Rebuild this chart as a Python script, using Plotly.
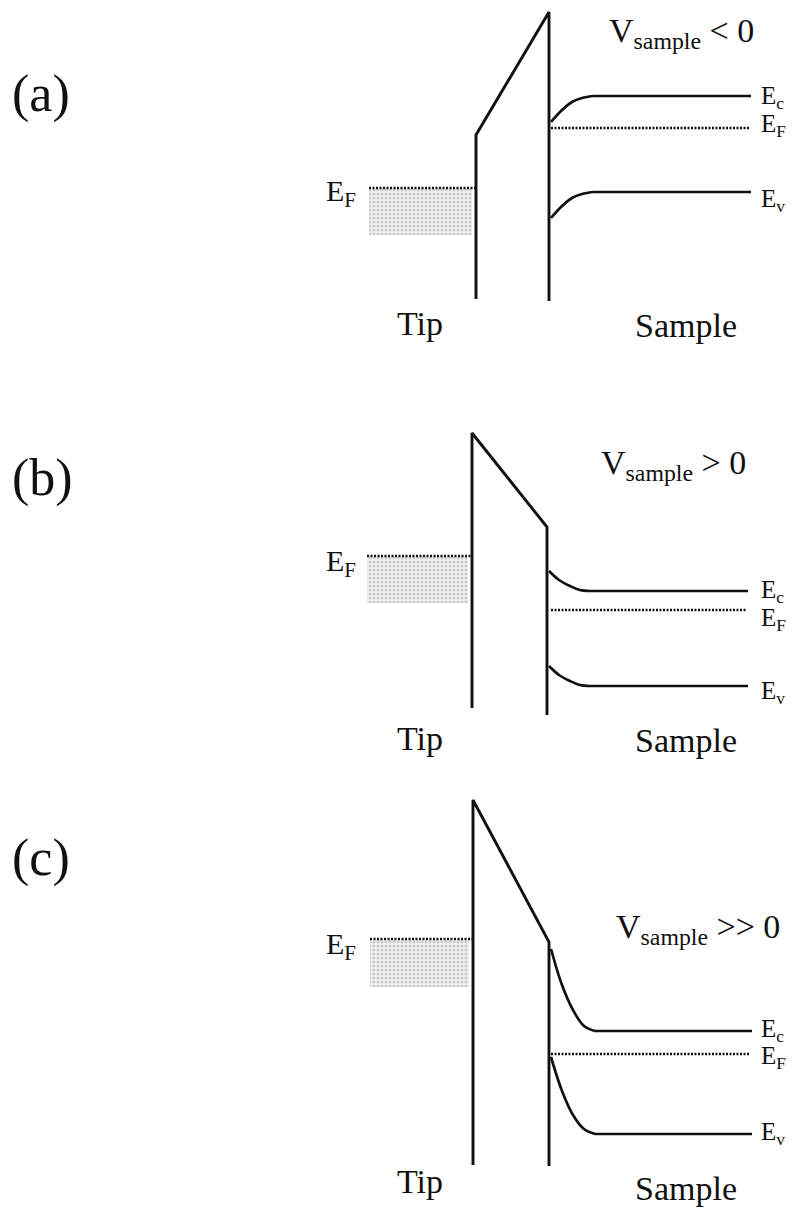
import plotly.graph_objects as go

# ---------------- data (diagram coordinates, y grows downward) ----------------
panel_labels = ["(a)", "(b)", "(c)"]
bias_labels = ["V<sub>sample</sub> < 0", "V<sub>sample</sub> > 0", "V<sub>sample</sub> >> 0"]

tip_wall_x = [476, 472, 473]
tip_wall_top = [135, 433, 800]
tip_wall_bottom = [299, 708, 1165]

sample_wall_x = [549, 547, 549]
sample_wall_top = [12, 527, 942]
sample_wall_bottom = [301, 715, 1166]

tip_ef_x0 = [369, 367, 370]
tip_ef_y = [188, 556, 939]
tip_band_bottom = [235, 603, 987]

sample_ef_x0 = [551, 551, 551]
sample_ef_y = [128, 610, 1054]
band_right_x = [751, 748, 752]

ec_x = [[551, 561, 572, 582, 593], [549, 559, 570, 580, 590], [551, 562, 573, 584, 595]]
ec_y = [[122, 111, 102, 98, 96], [571, 580, 586, 590, 591], [949, 985, 1010, 1026, 1031]]
ev_x = [[551, 561, 572, 582, 593], [549, 559, 570, 580, 590], [551, 562, 573, 584, 595]]
ev_y = [[218, 207, 198, 194, 192], [666, 675, 681, 685, 686], [1057, 1091, 1115, 1129, 1134]]

# label anchor heights
panel_label_y = [94, 478, 858]
bias_label_y = [33, 465, 929]
bias_label_x = [681, 673, 698]
tip_label_y = [323, 738, 1181]
sample_label_y = [325, 740, 1188]
left_ef_label_y = [193, 563, 946]
ec_label_y = [97, 591, 1030]
ef_label_y = [125, 619, 1057]
ev_label_y = [200, 692, 1133]

# ---------------- figure ----------------
W, H = 796, 1208
FONT = "Liberation Serif, Times New Roman, serif"
BLACK = "#111111"

fig = go.Figure()

def add_line(xs, ys, width=2.6, dash="solid", shape="linear"):
    fig.add_trace(go.Scatter(x=xs, y=ys, mode="lines",
                             line=dict(color=BLACK, width=width, dash=dash, shape=shape),
                             hoverinfo="skip", showlegend=False))

annotations = []
for i in range(3):
    # tip occupied states (stippled)
    fig.add_trace(go.Scatter(
        x=[tip_ef_x0[i], tip_wall_x[i] - 4, tip_wall_x[i] - 4, tip_ef_x0[i], tip_ef_x0[i]],
        y=[tip_ef_y[i], tip_ef_y[i], tip_band_bottom[i], tip_band_bottom[i], tip_ef_y[i]],
        mode="none", fill="toself", fillcolor="rgba(238,238,238,1)",
        fillpattern=dict(shape=".", fgcolor="#a0a0a0", bgcolor="#f2f2f2", size=4, solidity=0.45),
        hoverinfo="skip", showlegend=False))

    # tip wall + barrier + sample wall
    add_line([tip_wall_x[i], tip_wall_x[i], sample_wall_x[i], sample_wall_x[i]],
             [tip_wall_bottom[i], tip_wall_top[i], sample_wall_top[i], sample_wall_bottom[i]],
             width=2.9)

    # Fermi levels (dotted)
    add_line([tip_ef_x0[i], tip_wall_x[i]], [tip_ef_y[i], tip_ef_y[i]], width=2.5, dash="2px,1.5px")
    add_line([sample_ef_x0[i], band_right_x[i] - 2], [sample_ef_y[i], sample_ef_y[i]],
             width=2.5, dash="2px,1.5px")

    # conduction / valence bands
    add_line(ec_x[i], ec_y[i], width=2.7, shape="spline")
    add_line([ec_x[i][-1], band_right_x[i]], [ec_y[i][-1], ec_y[i][-1]], width=2.7)
    add_line(ev_x[i], ev_y[i], width=2.7, shape="spline")
    add_line([ev_x[i][-1], band_right_x[i]], [ev_y[i][-1], ev_y[i][-1]], width=2.7)

    # labels
    annotations += [
        dict(x=10, y=panel_label_y[i], text=panel_labels[i], xanchor="left", yanchor="middle",
             font=dict(size=52, family=FONT, color=BLACK)),
        dict(x=bias_label_x[i], y=bias_label_y[i], text=bias_labels[i], xanchor="center",
             yanchor="middle", font=dict(size=34, family=FONT, color=BLACK)),
        dict(x=420, y=tip_label_y[i], text="Tip", xanchor="center", yanchor="middle",
             font=dict(size=34, family=FONT, color=BLACK)),
        dict(x=686, y=sample_label_y[i], text="Sample", xanchor="center", yanchor="middle",
             font=dict(size=34, family=FONT, color=BLACK)),
        dict(x=358, y=left_ef_label_y[i], text="E<sub>F</sub>", xanchor="right", yanchor="middle",
             font=dict(size=30, family=FONT, color=BLACK)),
        dict(x=759, y=ec_label_y[i], text="E<sub>c</sub>", xanchor="left", yanchor="middle",
             font=dict(size=25, family=FONT, color=BLACK)),
        dict(x=759, y=ef_label_y[i], text="E<sub>F</sub>", xanchor="left", yanchor="middle",
             font=dict(size=25, family=FONT, color=BLACK)),
        dict(x=759, y=ev_label_y[i], text="E<sub>v</sub>", xanchor="left", yanchor="middle",
             font=dict(size=25, family=FONT, color=BLACK)),
    ]

for a in annotations:
    a.update(xref="x", yref="y", showarrow=False)

fig.update_layout(
    width=W, height=H, margin=dict(l=0, r=0, t=0, b=0),
    paper_bgcolor="white", plot_bgcolor="white",
    xaxis=dict(range=[0, W], visible=False, fixedrange=True),
    yaxis=dict(range=[H, 0], visible=False, fixedrange=True),
    annotations=annotations, showlegend=False,
)

fig.write_html("out.html")
